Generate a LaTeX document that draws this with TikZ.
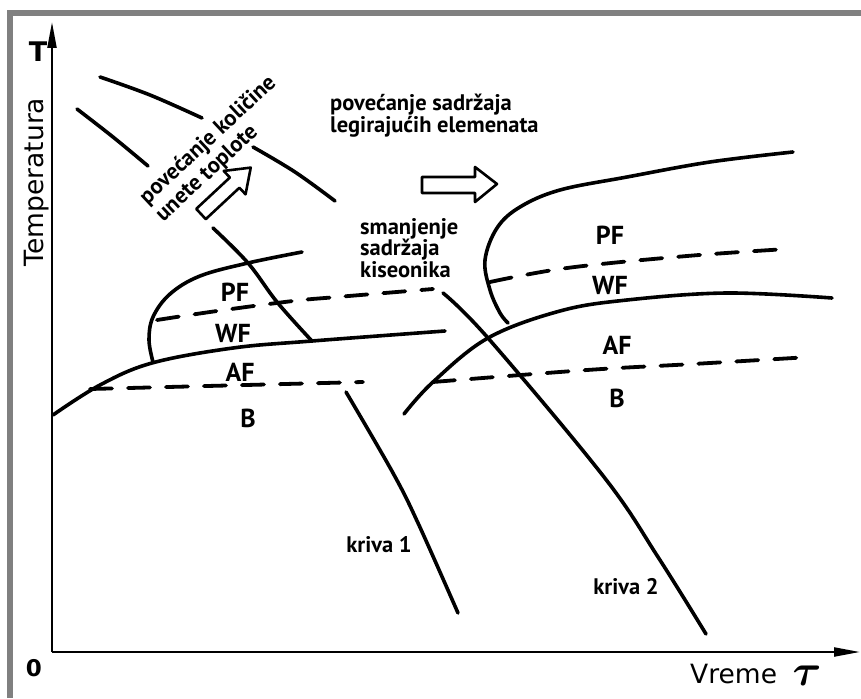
\documentclass[tikz,border=0pt]{standalone}
\usepackage{graphicx}
\usepackage{fontspec}
\setmainfont{PT Sans}
\newfontfamily\axisfont{DejaVu Sans}
\usetikzlibrary{arrows.meta}
\definecolor{framegray}{RGB}{128,128,128}
\begin{document}
\begin{tikzpicture}[x=1pt,y=-1pt,
  curve/.style={line width=3.6pt,line cap=round,line join=round},
  dcurve/.style={line width=3.8pt,line cap=round,dash pattern=on 22pt off 16pt},
  axisline/.style={line width=2.2pt,-{Triangle[length=26pt,width=9pt]}},
  region/.style={font=\fontsize{26}{26}\selectfont\bfseries,inner sep=0pt},
  note/.style={font=\fontsize{22.5}{22}\selectfont\bfseries,inner sep=0pt,align=left},
  hollow/.style={line width=2.6pt,line join=round,fill=white},
  axlab/.style={font=\axisfont\fontsize{26.5}{26.5}\selectfont,inner sep=0pt}]
\useasboundingbox (0,0) rectangle (861,698);
\fill[white] (0,0) rectangle (861,698);
% frame
\fill[framegray] (7,10) rectangle (861,16);
\fill[framegray] (7,10) rectangle (13,698);
% axes
\coordinate (O) at (52,652);
\coordinate (Ytip) at (52,22);
\coordinate (Xtip) at (860,652);
\draw[axisline] (O) -- (Ytip);
\draw[axisline] (O) -- (Xtip);
\node[font=\axisfont\bfseries\fontsize{27}{27}\selectfont,inner sep=0pt] (T) at (38,52) {T};
\node[font=\axisfont\bfseries\fontsize{23}{23}\selectfont,inner sep=0pt] (zero) at (34,668) {0};
\node[axlab,rotate=90,anchor=base] (temp) at (43,182) {Temperatura};
\node[axlab,anchor=base west] (vreme) at (690,683) {Vreme};
\node[inner sep=0pt] (tau) at (807,676) {\scalebox{4.4}{\boldmath$\tau$}};
% cooling curves (upper parts)
\draw[curve] plot[smooth,tension=0.6] coordinates {(100,77) (150,95) (202,118)};
\draw[curve] plot[smooth,tension=0.6] coordinates {(253,147) (295,172) (335,201)};
\draw[curve] plot[smooth,tension=0.6] coordinates {(77,109) (113,137) (148,166)};
\draw[curve] plot[smooth,tension=0.6] coordinates {(213,228) (248,263) (277,302) (311,340)};
% kriva 1 and kriva 2
\draw[curve] plot[smooth,tension=0.6] coordinates {(346,392) (393,473) (418,523) (458,613)};
\draw[curve] plot[smooth,tension=0.6] coordinates {(443,293) (488,338) (604,477) (658,557) (706,634)};
% left diagram
\draw[curve] plot[smooth,tension=0.6] coordinates {(302,252) (248,263) (200,276) (170,294) (153,317) (149,340) (153,362)};
\draw[curve] plot[smooth,tension=0.6] coordinates {(53,415) (100,385) (152,363) (233,348) (312,341) (445,331)};
\draw[dcurve] plot[smooth,tension=0.6] coordinates {(157,320) (217,311) (293,301) (337,297) (433,289)};
\draw[dcurve] plot[smooth,tension=0.6] coordinates {(90,389) (207,386) (363,382)};
% right diagram
\draw[curve] plot[smooth,tension=0.6] coordinates {(793,152) (710,162) (627,177) (560,190) (520,207) (497,228) (485,260) (490,290) (500,313) (508,323)};
\draw[curve] plot[smooth,tension=0.6] coordinates {(404,414) (433,382) (488,338) (560,311) (627,300) (727,293) (832,298)};
\draw[dcurve] plot[smooth,tension=0.6] coordinates {(490,282) (567,268) (687,256) (787,249)};
\draw[dcurve] plot[smooth,tension=0.6] coordinates {(433,382) (587,370) (693,364) (810,357)};
% region labels
\node[region] (pf1) at (235,292) {PF};
\node[region] (wf1) at (233,333) {WF};
\node[region] (af1) at (240,372) {AF};
\node[region] (b1) at (248,418) {B};
\node[region] (pf2) at (610,235) {PF};
\node[region] (wf2) at (610,285) {WF};
\node[region] (af2) at (617,345) {AF};
\node[region] (b2) at (617,398) {B};
% curve labels
\node[note] (k1) at (379,545) {kriva 1};
\node[note] (k2) at (626,587) {kriva 2};
% notes
\node[note,anchor=west] (legir) at (330,116) {povećanje sadržaja\\legirajućih elemenata};
\node[note,anchor=west,font=\fontsize{22.5}{21.5}\selectfont\bfseries] (kis) at (360,248) {smanjenje\\sadržaja\\kiseonika};
\node[note,rotate=43,font=\fontsize{22.5}{23.5}\selectfont\bfseries] (heat) at (216,149) {povećanje količine\\unete toplote};
% hollow arrows
\draw[hollow] (422,177) -- (475,177) -- (475,167) -- (497,184) -- (475,202) -- (475,193) -- (422,193) -- cycle;
\begin{scope}[shift={(201,214)},rotate=43]
\draw[hollow] (0,-7) -- (46,-7) -- (46,-16) -- (68,0) -- (46,16) -- (46,7) -- (0,7) -- cycle;
\end{scope}
\end{tikzpicture}
\end{document}
